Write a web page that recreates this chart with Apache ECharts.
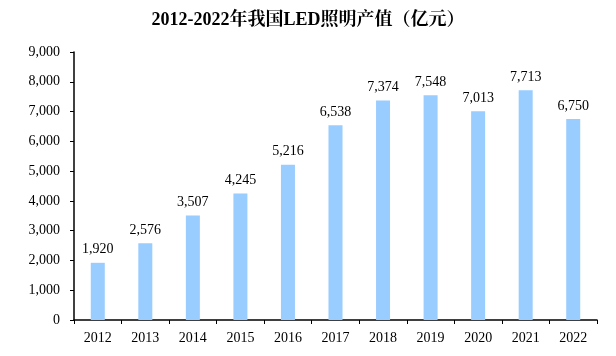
<!DOCTYPE html>
<html><head><meta charset="utf-8">
<script src="https://cdn.jsdelivr.net/npm/echarts@6/dist/echarts.min.js"></script>
<style>html,body{margin:0;padding:0;background:#fff}#c{width:616px;height:356px}</style>
</head><body><div id="c"></div>
<script>
const categories = ['2012','2013','2014','2015','2016','2017','2018','2019','2020','2021','2022'];
const values = [1920, 2576, 3507, 4245, 5216, 6538, 7374, 7548, 7013, 7713, 6750];
const titleText = '2012-2022年我国LED照明产值（亿元）';
const serif = '"Liberation Serif","Times New Roman","Noto Serif CJK SC","Noto Sans CJK SC",serif';
const fmt = v => Number(v).toLocaleString('en-US');
const chart = echarts.init(document.getElementById('c'));
chart.setOption({
  animation: false,
  title: {text: titleText, left: 'center', top: 6,
    textStyle: {fontFamily: serif, fontSize: 18, fontWeight: 'bold', color: '#000'}},
  grid: {left: 74, right: 19, top: 52, bottom: 36},
  xAxis: {type: 'category', data: categories,
    axisLine: {lineStyle: {color: '#000', width: 1.5}},
    axisTick: {show: true, alignWithLabel: false, length: 4, lineStyle: {color: '#000'}},
    axisLabel: {fontFamily: serif, fontSize: 14, color: '#000', margin: 11}},
  yAxis: {type: 'value', min: 0, max: 9000, interval: 1000,
    axisLine: {show: true, lineStyle: {color: '#000', width: 1.5}},
    axisTick: {show: true, length: 4, lineStyle: {color: '#000'}},
    splitLine: {show: false},
    axisLabel: {fontFamily: serif, fontSize: 14, color: '#000', margin: 14, formatter: fmt}},
  series: [{type: 'bar', data: values, barWidth: 14,
    itemStyle: {color: '#99CCFF'},
    label: {show: true, position: 'top', distance: 6, fontFamily: serif, fontSize: 14, color: '#000', formatter: p => fmt(p.value)}}]
});
</script></body></html>
